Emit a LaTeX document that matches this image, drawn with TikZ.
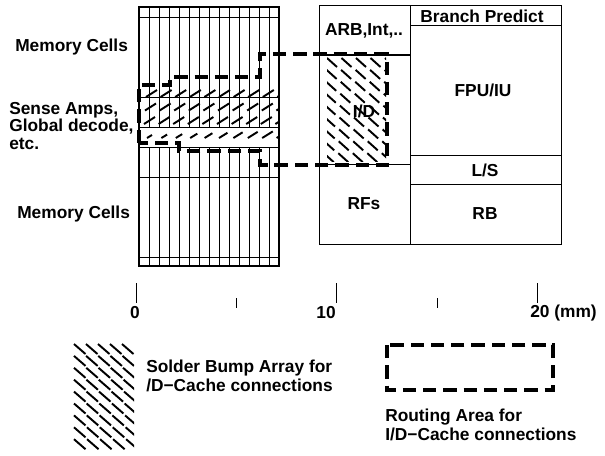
\documentclass[tikz,border=0pt]{standalone}
\usepackage{fontspec}
\setmainfont{Liberation Sans}
\begin{document}
\begin{tikzpicture}[
x=0.75pt,y=-0.75pt,
lab/.style={font=\bfseries\fontsize{13pt}{15pt}\selectfont,inner sep=0pt},
lableft/.style={lab,anchor=west},
route/.style={line width=2.4pt,dash pattern=on 10pt off 5.2pt},
bump/.style={line width=1.45pt},
cell/.style={line width=0.7pt},
tick/.style={line width=0.7pt}
]
\useasboundingbox (0,0) rectangle (605,455);
% memory block
\foreach \x in {149,159,...,269}{
	\draw[cell] (\x,7) -- (\x,127);
	\draw[cell] (\x,147) -- (\x,266);
}
\foreach \y in {17,97,127,147,177,257}{
	\draw[cell] (139,\y) -- (279,\y);
}
\draw[line width=1.6pt] (139,7) rectangle (279,266);
% right block
\draw[cell] (319,5) rectangle (561,244);
\draw[cell] (410,5) -- (410,244);
\draw[cell] (410,25) -- (561,25);
\draw[cell] (410,155) -- (561,155);
\draw[cell] (410,184) -- (561,184);
\draw[line width=1pt] (319,55) -- (410,55);
\draw[cell] (319,164) -- (410,164);
% bumps over the cache
\begin{scope}
	\clip (327,57) rectangle (386,161);
	\foreach \r in {0,...,8}{
		\foreach \c in {0,...,4}{
			\draw[bump] (327+14.5*\c-0.4*\r,58+11.9*\r) -- ++(10,9);
		}
	}
\end{scope}
% bumps over the memory
\begin{scope}
	\clip (140,85) rectangle (278,145);
	\foreach \r in {0,...,2}{
		\foreach \c in {0,...,9}{
			\draw[bump] (146+14.6*\c-1*\r,97+13.5*\r) -- ++(11,-7);
		}
	}
	\foreach \c in {0,...,9}{
		\draw[bump] (147+14.6*\c-0.2*\c,138) -- ++(5+0.7*\c,-3-0.45*\c);
	}
\end{scope}
% routing
\draw[route] (139,143) -- (139,85) -- (170,85) -- (170,77) -- (260,77) -- (260,54) -- (387,54) -- (387,165) -- (260,165) -- (260,151) -- (179,151) -- (179,143) -- cycle;
% labels
\node[lableft] (memtop) at (15,47) {Memory Cells};
\node[lableft] (sense) at (9,110) {Sense Amps,};
\node[lableft] (decode) at (9,127) {Global decode,};
\node[lableft] (etc) at (9,144) {etc.};
\node[lableft] (membot) at (17,214) {Memory Cells};
\node[lab] (arb) at (364,31) {ARB,Int,..};
\node[lab] (branch) at (482,16) {Branch Predict};
\node[lab] (fpu) at (483,90) {FPU/IU};
\node[lab] (id) at (364,111) {I/D};
\node[lab] (ls) at (485,170) {L/S};
\node[lab] (rfs) at (364,204) {RFs};
\node[lab] (rb) at (485,214) {RB};
% scale
\draw[tick] (136,283) -- (136,303);
\draw[tick] (236,298) -- (236,308);
\draw[tick] (336,283) -- (336,303);
\draw[tick] (437,298) -- (437,308);
\draw[tick] (537,283) -- (537,303);
\node[lab] (zero) at (135,313) {0};
\node[lab] (ten) at (326,313) {10};
\node[lableft] (twenty) at (530,313) {20 (mm)};
% legend
\begin{scope}
	\clip (73,343) rectangle (134,451);
	\foreach \r in {0,...,8}{
		\foreach \c in {0,...,4}{
			\draw[bump] (74+12*\c+0.13*\r*\c,344+11.9*\r) -- ++(11.5,10);
		}
	}
\end{scope}
\node[lableft] (solder) at (146,368) {Solder Bump Array for};
\node[lableft] (dcache) at (146,385) {/D−Cache connections};
\draw[route] (387,345) rectangle (553,390);
\node[lableft] (routing) at (385,417) {Routing Area for};
\node[lableft] (idcache) at (385,434) {I/D−Cache connections};
\end{tikzpicture}
\end{document}
